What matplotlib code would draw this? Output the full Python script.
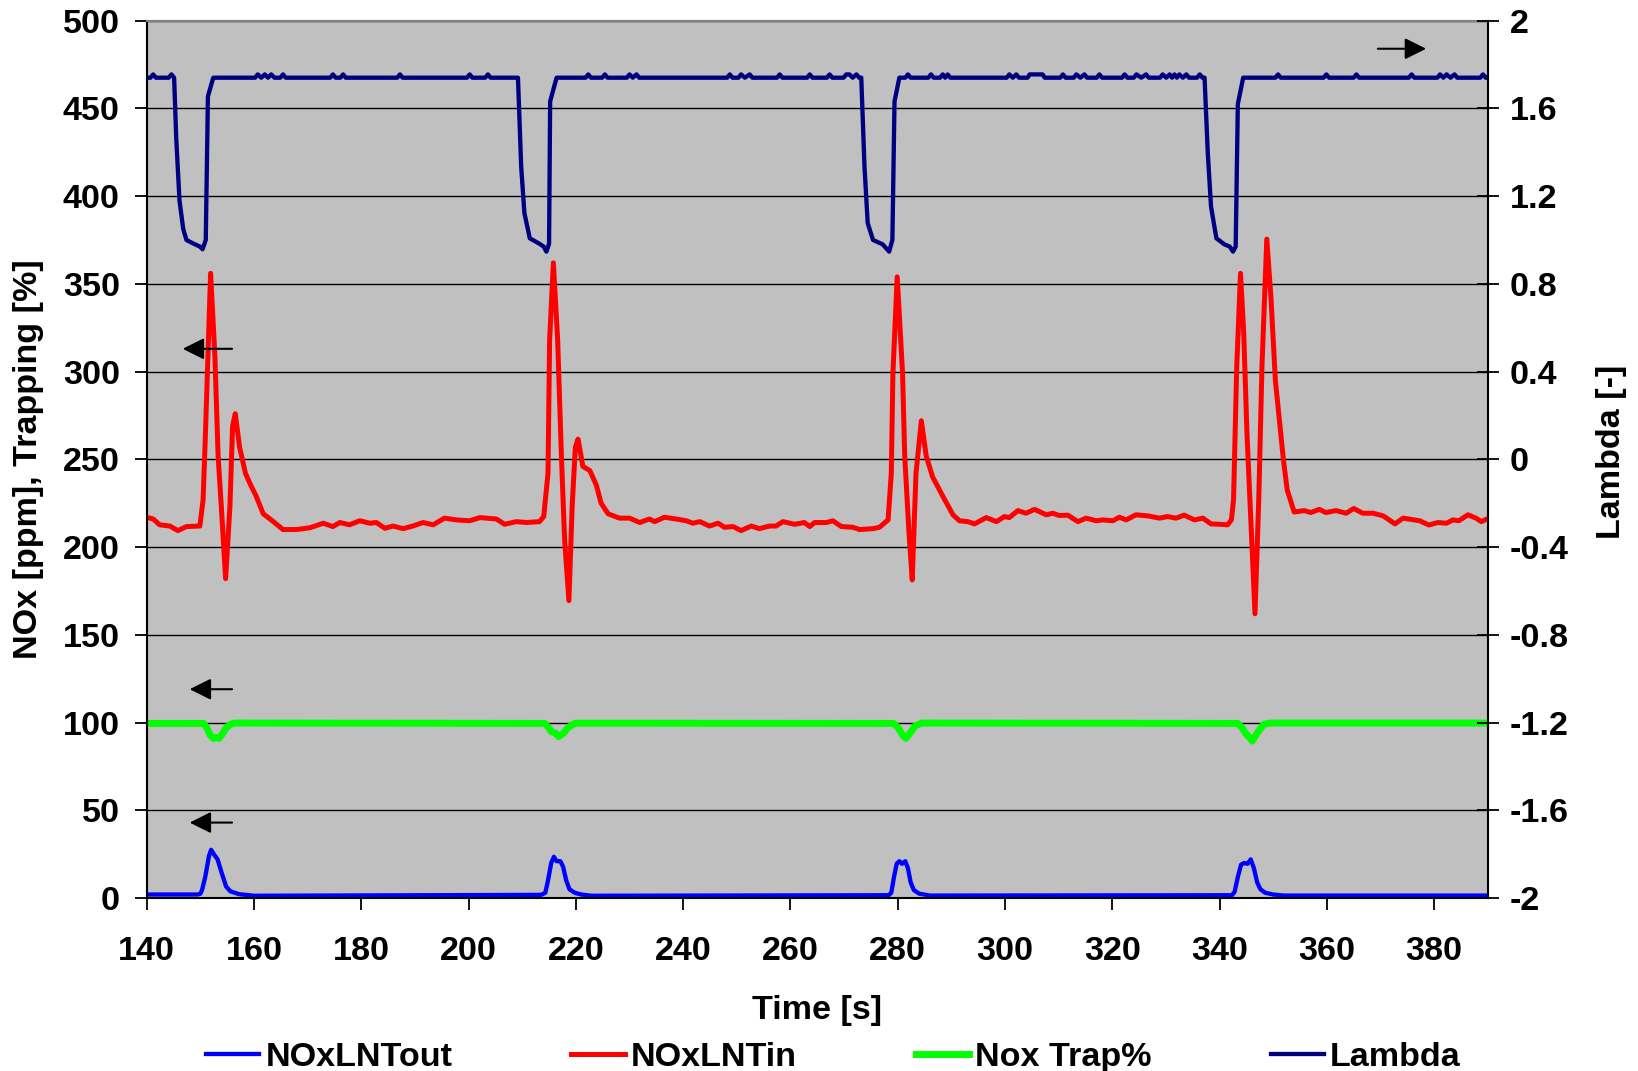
import matplotlib
matplotlib.use('Agg')
import matplotlib.pyplot as plt

# ---- data (time [s], value) ----
nox_out = [(140.0, 2.0), (149.5, 2.0), (150.0, 2.5), (150.3, 4.5), (150.9, 12), (151.6, 24), (152.0, 27.5),
           (152.5, 25), (153.2, 22), (154.0, 14), (154.8, 6.5), (155.6, 3.8), (157.2, 2.2), (160.0, 1.3),
           (213.5, 1.8), (214.3, 3), (214.8, 10), (215.4, 20), (215.9, 23.5), (216.4, 21), (217.1, 21),
           (217.6, 18), (218.2, 10), (218.8, 5), (219.8, 3), (221.0, 2), (223.0, 1.3),
           (278.3, 1.6), (278.8, 3), (279.3, 12), (279.8, 19.5), (280.3, 21), (280.8, 19.5), (281.4, 21),
           (281.9, 17), (282.4, 9), (283.0, 4.5), (284.0, 2.5), (286.0, 1.4),
           (342.3, 1.6), (342.8, 3.5), (343.4, 12), (344.0, 19), (344.6, 20), (345.2, 19.5), (345.8, 22),
           (346.4, 17), (347.0, 9), (347.6, 5), (348.5, 3), (350.0, 2), (352.0, 1.4), (390.0, 1.4)]

nox_in = [(140.0, 217), (141.2, 216), (142.4, 212.7), (144.3, 212), (145.8, 209.4), (147.4, 211.7),
          (149.9, 212), (150.5, 227), (150.9, 261), (151.9, 356), (152.7, 309), (153.3, 252), (153.9, 223),
          (154.7, 182), (155.5, 223), (156.0, 269), (156.5, 276), (157.3, 257), (158.4, 242), (159.5, 234.5),
          (160.4, 229), (161.7, 219), (163.2, 215.5), (165.4, 210), (167.9, 210), (170.4, 211), (172.9, 213.6),
          (174.7, 211.7), (176.0, 214), (177.8, 212.7), (179.7, 215), (181.6, 213.6), (182.8, 214),
          (184.4, 210.7), (185.9, 212), (187.8, 210.5), (189.6, 212), (191.5, 214), (193.4, 212.7),
          (195.5, 216.5), (197.7, 215.5), (200.2, 215), (202.1, 216.8), (205.2, 216), (206.7, 213),
          (208.9, 214.5), (210.8, 214), (213.2, 214.5), (214.0, 217.4), (214.8, 242), (215.1, 318),
          (215.8, 362), (216.6, 318), (217.3, 252), (217.9, 204), (218.7, 169.5), (219.3, 223), (219.9, 257),
          (220.4, 261.5), (221.3, 246), (222.6, 243.6), (223.8, 235.4), (224.7, 225), (226.0, 219),
          (228.1, 216.5), (230.0, 216.5), (231.9, 214), (233.7, 216), (234.7, 214.5), (236.5, 217),
          (238.7, 216), (240.6, 215), (241.8, 213.6), (243.1, 214.5), (244.9, 212), (246.5, 213.6),
          (247.7, 211.3), (249.3, 211.7), (250.8, 209.4), (252.7, 212), (254.2, 210.5), (256.1, 212),
          (257.3, 212), (258.6, 214.5), (260.8, 213), (262.6, 214), (263.6, 211.7), (264.5, 214), (266.7, 214),
          (267.9, 215), (269.5, 211.7), (271.6, 211.3), (272.9, 210), (275.4, 210.5), (276.6, 211.3),
          (278.2, 215.5), (278.8, 242), (279.1, 299), (279.9, 354), (280.9, 299), (281.3, 252), (282.1, 208),
          (282.7, 181.3), (283.4, 242), (284.4, 272), (285.3, 252), (286.5, 240), (288.4, 229), (290.3, 218.4),
          (291.5, 215), (293.1, 214.5), (294.3, 213.2), (296.5, 216.8), (298.4, 214.5), (299.9, 217.4),
          (300.8, 216.8), (302.4, 220.8), (303.9, 219.3), (305.5, 221.5), (307.7, 218.4), (308.9, 219.3),
          (310.1, 218), (311.7, 218.2), (313.6, 214.5), (315.1, 216.5), (317.0, 215), (318.2, 215.5),
          (320.1, 215), (321.3, 217), (322.6, 215.5), (324.4, 218.4), (326.6, 217.8), (328.8, 216.5),
          (330.3, 217.4), (331.9, 216.5), (333.4, 218.2), (335.3, 215.5), (336.9, 216.5), (338.4, 213.2),
          (340.0, 213), (341.5, 212.7), (342.2, 215.5), (342.6, 227), (343.2, 303), (343.9, 356), (344.5, 322),
          (345.1, 265), (345.8, 217), (346.6, 162), (347.3, 227), (347.9, 303), (348.8, 375.5), (349.6, 341),
          (350.4, 295), (351.1, 274), (351.9, 249.7), (352.6, 232.6), (353.9, 220), (355.8, 220.8),
          (357.0, 219.7), (358.6, 221.5), (359.8, 219.7), (361.7, 220.8), (363.6, 219.3), (365.0, 222),
          (366.7, 219.3), (368.6, 219.3), (370.5, 217.8), (372.7, 213.2), (374.2, 216.5), (377.3, 215),
          (379.0, 212.6), (380.7, 214), (382.3, 213.6), (383.5, 215.5), (384.6, 215), (386.3, 218.4),
          (387.8, 216.5), (388.8, 214.5), (389.8, 216)]

nox_trap = [(140.0, 99.5), (150.6, 99.5), (151.2, 97), (151.8, 93), (152.4, 91), (153.0, 91.5), (153.5, 91),
            (154.2, 94), (154.8, 97), (155.6, 99), (156.4, 99.7),
            (214.2, 99.5), (214.8, 97.5), (215.5, 94.7), (216.2, 94), (216.8, 92), (217.7, 94), (218.5, 97),
            (219.8, 99.6), (279.2, 99.5), (280.0, 97.5), (280.8, 93.3), (281.5, 91), (282.3, 94),
            (283.2, 98), (284.5, 99.7), (343.4, 99.5), (344.2, 97), (345.0, 93.3), (345.6, 91.5),
            (346.1, 89.5), (347.0, 94), (348.2, 99), (349.5, 99.7), (390.0, 99.7)]

lambda_pts = [(140.0, 1.74), (140.7, 1.74), (141.2, 1.755), (141.7, 1.74), (144.1, 1.74), (144.6, 1.755),
              (145.1, 1.74), (145.5, 1.46), (146.1, 1.18), (146.8, 1.05), (147.4, 1.0), (148.6, 0.985),
              (149.9, 0.97), (150.4, 0.958), (151.0, 1.0), (151.4, 1.655), (152.4, 1.74),
              (160.2, 1.74), (160.7, 1.755), (161.35, 1.74), (162.0, 1.755), (162.6, 1.74), (163.2, 1.755),
              (163.8, 1.74), (164.9, 1.74), (165.4, 1.755), (165.9, 1.74), (174.2, 1.74), (174.7, 1.755),
              (175.2, 1.74), (176.1, 1.74), (176.6, 1.755), (177.1, 1.74), (186.7, 1.74), (187.2, 1.755),
              (187.7, 1.74), (199.7, 1.74), (200.2, 1.755), (200.7, 1.74), (203.1, 1.74), (203.6, 1.755),
              (204.1, 1.74),
              (209.2, 1.74), (209.8, 1.335), (210.4, 1.123), (211.4, 1.008), (213.2, 0.983), (214.0, 0.97),
              (214.5, 0.947), (215.0, 0.983), (215.2, 1.632), (216.4, 1.74),
              (221.8, 1.74), (222.3, 1.755), (222.8, 1.74), (224.9, 1.74), (225.4, 1.755), (225.9, 1.74),
              (229.5, 1.74), (230.0, 1.755), (230.6, 1.74), (231.3, 1.755), (231.8, 1.74), (248.2, 1.74),
              (248.7, 1.755), (249.2, 1.74), (250.3, 1.74), (250.8, 1.755), (251.5, 1.74), (252.4, 1.755),
              (252.9, 1.74), (257.5, 1.74), (258.0, 1.755), (258.5, 1.74), (263.1, 1.74), (263.6, 1.755),
              (264.1, 1.74), (266.8, 1.74), (267.3, 1.755), (267.8, 1.74), (269.9, 1.74), (270.4, 1.755),
              (271.0, 1.755), (271.6, 1.74), (272.3, 1.755), (272.8, 1.74),
              (273.2, 1.74), (273.8, 1.335), (274.4, 1.077), (275.4, 1.0), (277.2, 0.98), (278.4, 0.947),
              (279.0, 1.0), (279.4, 1.632), (280.3, 1.74),
              (281.4, 1.74), (281.9, 1.755), (282.4, 1.74), (285.7, 1.74), (286.2, 1.755), (286.7, 1.74),
              (287.9, 1.74), (288.4, 1.755), (288.85, 1.74), (289.3, 1.755), (289.8, 1.74),
              (300.3, 1.74), (300.8, 1.755), (301.45, 1.74), (302.1, 1.755), (302.6, 1.74), (304.2, 1.74),
              (304.6, 1.755), (307.0, 1.755), (307.4, 1.74), (310.3, 1.74), (310.8, 1.755), (311.3, 1.74),
              (312.8, 1.74), (313.3, 1.755), (314.05, 1.74), (314.8, 1.755), (315.3, 1.74), (317.1, 1.74),
              (317.6, 1.755), (318.1, 1.74), (321.8, 1.74), (322.3, 1.755), (322.8, 1.74), (324.0, 1.74),
              (324.5, 1.755), (325.4, 1.74), (326.3, 1.755), (326.8, 1.74), (328.9, 1.74), (329.4, 1.755),
              (330.05, 1.74), (330.7, 1.755), (331.15, 1.74), (331.6, 1.755), (332.05, 1.74), (332.5, 1.755),
              (333.15, 1.74), (333.8, 1.755), (334.3, 1.74), (335.8, 1.74), (336.3, 1.755), (336.8, 1.74),
              (337.2, 1.74), (337.8, 1.397), (338.4, 1.153), (339.4, 1.008), (340.9, 0.98), (341.9, 0.97),
              (342.5, 0.947), (343.0, 0.97), (343.4, 1.62), (344.4, 1.74),
              (350.4, 1.74), (350.9, 1.755), (351.4, 1.74), (359.4, 1.74), (359.9, 1.755), (360.4, 1.74),
              (365.0, 1.74), (365.5, 1.755), (366.0, 1.74), (375.3, 1.74), (375.8, 1.755), (376.3, 1.74),
              (380.6, 1.74), (381.1, 1.755), (381.7, 1.74), (382.3, 1.755), (383.05, 1.74), (383.8, 1.755),
              (384.3, 1.74), (388.6, 1.74), (389.1, 1.755), (389.6, 1.74), (390.0, 1.74)]

left_ticks = [0, 50, 100, 150, 200, 250, 300, 350, 400, 450, 500]
right_ticks = [-2, -1.6, -1.2, -0.8, -0.4, 0, 0.4, 0.8, 1.2, 1.6, 2]
right_labels = ['-2', '-1.6', '-1.2', '-0.8', '-0.4', '0', '0.4', '0.8', '1.2', '1.6', '2']
time_ticks = [140, 160, 180, 200, 220, 240, 260, 280, 300, 320, 340, 360, 380]

plt.rcParams['font.family'] = ['Liberation Sans', 'DejaVu Sans']
plt.rcParams['font.weight'] = 'bold'
plt.rcParams['axes.unicode_minus'] = False
FS = 24.6

fig = plt.figure(figsize=(16.38, 10.71), dpi=100)
ax = fig.add_axes([0.0896, 0.1615, 0.8187, 0.8192])
ax.set_facecolor('#C0C0C0')

def unzip(pts):
    return [p[0] for p in pts], [p[1] for p in pts]

t, v = unzip(nox_out)
l1, = ax.plot(t, v, color='#0000FF', lw=3.1, label='NOxLNTout')
t, v = unzip(nox_in)
l2, = ax.plot(t, v, color='#FF0000', lw=3.6, label='NOxLNTin')
t, v = unzip(nox_trap)
l3, = ax.plot(t, v, color='#00FF00', lw=5.0, label='Nox Trap%')

ax.set_xlim(140, 390)
ax.set_ylim(0, 500)
ax.set_xticks(time_ticks)
ax.set_yticks(left_ticks)
ax.yaxis.grid(True, color='black', lw=1.0)
ax.set_axisbelow(True)
ax.tick_params(axis='both', labelsize=FS, direction='out', length=8.4, width=1.3, color='black')
ax.tick_params(axis='y', pad=11)
ax.tick_params(axis='x', pad=19)
for s in ['left', 'bottom']:
    ax.spines[s].set_linewidth(1.5)
ax.spines['top'].set_color('#808080')
ax.spines['top'].set_linewidth(1.5)
ax.spines['right'].set_visible(False)

ax.set_xlabel('Time [s]', fontsize=FS, fontweight='bold')
ax.xaxis.set_label_coords(0.5, -0.110)
ax.set_ylabel('NOx [ppm], Trapping [%]', fontsize=FS, fontweight='bold')
ax.yaxis.set_label_coords(-0.0766, 0.5)

# secondary axis for Lambda
ax2 = ax.twinx()
t, v = unzip(lambda_pts)
l4, = ax2.plot(t, v, color='#000080', lw=3.1, label='Lambda')
ax2.set_ylim(-2, 2)
ax2.set_yticks(right_ticks)
ax2.set_yticklabels(right_labels)
ax2.tick_params(axis='y', labelsize=FS, direction='inout', length=16, width=1.3, pad=8)
for s in ['left', 'top', 'bottom']:
    ax2.spines[s].set_visible(False)
ax2.spines['right'].set_linewidth(1.5)
ax2.set_ylabel('Lambda [-]', fontsize=FS, fontweight='bold')
ax2.yaxis.set_label_coords(1.0808, 0.508)

# arrows pointing at the axis each series belongs to
arrow = dict(arrowstyle='-|>,head_length=1.3,head_width=0.65', color='black', lw=1.5,
             shrinkA=0, shrinkB=0, mutation_scale=10)
ax.annotate('', xy=(146.7, 313), xytext=(155.9, 313), arrowprops=arrow, zorder=5)
ax.annotate('', xy=(148.0, 119), xytext=(155.9, 119), arrowprops=arrow, zorder=5)
ax.annotate('', xy=(148.0, 43), xytext=(155.9, 43), arrowprops=arrow, zorder=5)
ax.annotate('', xy=(378.5, 484), xytext=(369.5, 484), arrowprops=arrow, zorder=5)

fig.legend([l1, l2, l3, l4], ['NOxLNTout', 'NOxLNTin', 'Nox Trap%', 'Lambda'],
           loc='center left', bbox_to_anchor=(0.1258, 0.013), ncol=4, frameon=False,
           fontsize=FS, handlelength=1.56, handletextpad=0.18, columnspacing=3.48,
           borderpad=0, borderaxespad=0)

fig.savefig('out.png', dpi=100, facecolor='white')
